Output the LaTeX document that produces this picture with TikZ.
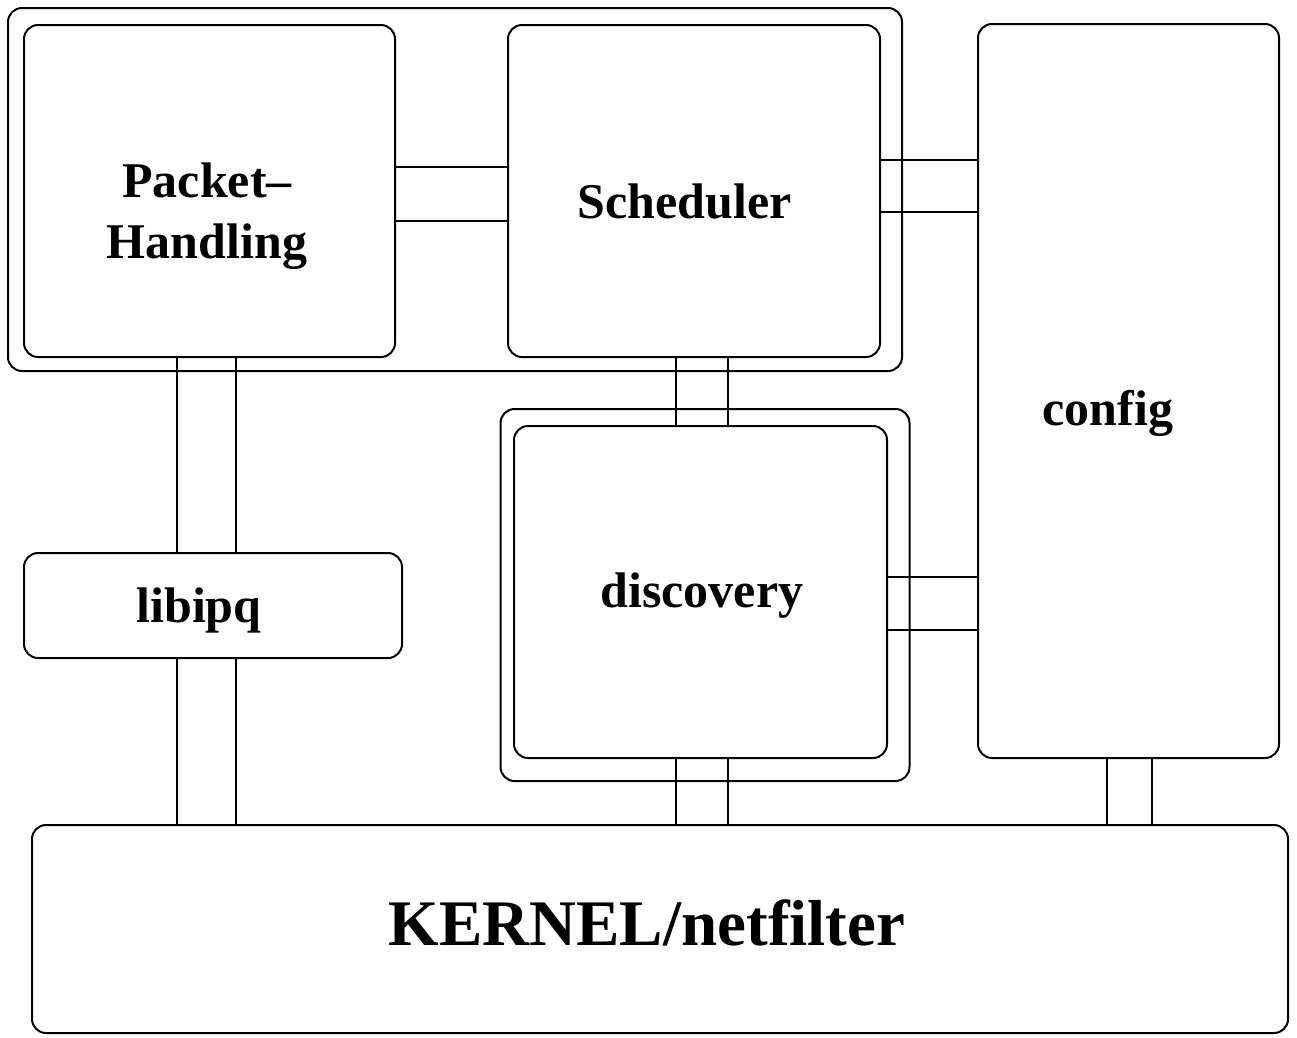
\documentclass[tikz,border=0pt]{standalone}
\usepackage{fontspec}
\setmainfont{Liberation Serif}
\begin{document}
\begin{tikzpicture}[x=1pt,y=-1pt,
  box/.style={draw=black,line width=2pt,rounded corners=14pt,inner sep=0pt,minimum width=#1},
  conn/.style={draw=black,line width=2pt},
  lbl/.style={anchor=base,inner sep=0pt,font=\bfseries\fontsize{50}{61}\selectfont},
  biglbl/.style={anchor=base,inner sep=0pt,font=\bfseries\fontsize{65}{78}\selectfont}]
\useasboundingbox (0,0) rectangle (1297,1037);
\fill[white] (0,0) rectangle (1297,1037);
% boxes
\node[box=894pt,minimum height=363pt] (outer) at (455,189.5) {};
\node[box=371pt,minimum height=332pt] (ph) at (209.5,191) {};
\node[box=372pt,minimum height=332pt] (sch) at (694,191) {};
\node[box=301pt,minimum height=734pt] (cfg) at (1128.5,391) {};
\node[box=409pt,minimum height=372pt] (discouter) at (705,595) {};
\node[box=373pt,minimum height=332pt] (disc) at (700.5,592) {};
\node[box=378pt,minimum height=105pt] (lib) at (213,605.5) {};
\node[box=1256pt,minimum height=208pt] (kern) at (660,929) {};
% labels
\node[lbl] (tph1) at (207,197) {Packet–};
\node[lbl] (tph2) at (207,258) {Handling};
\node[lbl] (tsch) at (684.5,218) {Scheduler};
\node[lbl] (tcfg) at (1108,425) {config};
\node[lbl] (tdisc) at (702,607) {discovery};
\node[lbl] (tlib) at (199,622) {libipq};
\node[biglbl] (tkern) at (647,945) {KERNEL/netfilter};
% connector guide coordinates
\coordinate (hy1) at (0,167);
\coordinate (hy2) at (0,221);
\coordinate (sy1) at (0,160);
\coordinate (sy2) at (0,212);
\coordinate (dy1) at (0,577);
\coordinate (dy2) at (0,630);
\coordinate (px1) at (177,0);
\coordinate (px2) at (236,0);
\coordinate (dx1) at (676,0);
\coordinate (dx2) at (728,0);
\coordinate (cx1) at (1107,0);
\coordinate (cx2) at (1152,0);
% connectors
\draw[conn] (ph.east |- hy1) -- (sch.west |- hy1);
\draw[conn] (ph.east |- hy2) -- (sch.west |- hy2);
\draw[conn] (sch.east |- sy1) -- (cfg.west |- sy1);
\draw[conn] (sch.east |- sy2) -- (cfg.west |- sy2);
\draw[conn] (disc.east |- dy1) -- (cfg.west |- dy1);
\draw[conn] (disc.east |- dy2) -- (cfg.west |- dy2);
\draw[conn] (px1 |- ph.south) -- (px1 |- lib.north);
\draw[conn] (px2 |- ph.south) -- (px2 |- lib.north);
\draw[conn] (px1 |- lib.south) -- (px1 |- kern.north);
\draw[conn] (px2 |- lib.south) -- (px2 |- kern.north);
\draw[conn] (dx1 |- sch.south) -- (dx1 |- disc.north);
\draw[conn] (dx2 |- sch.south) -- (dx2 |- disc.north);
\draw[conn] (dx1 |- disc.south) -- (dx1 |- kern.north);
\draw[conn] (dx2 |- disc.south) -- (dx2 |- kern.north);
\draw[conn] (cx1 |- cfg.south) -- (cx1 |- kern.north);
\draw[conn] (cx2 |- cfg.south) -- (cx2 |- kern.north);
\end{tikzpicture}
\end{document}
